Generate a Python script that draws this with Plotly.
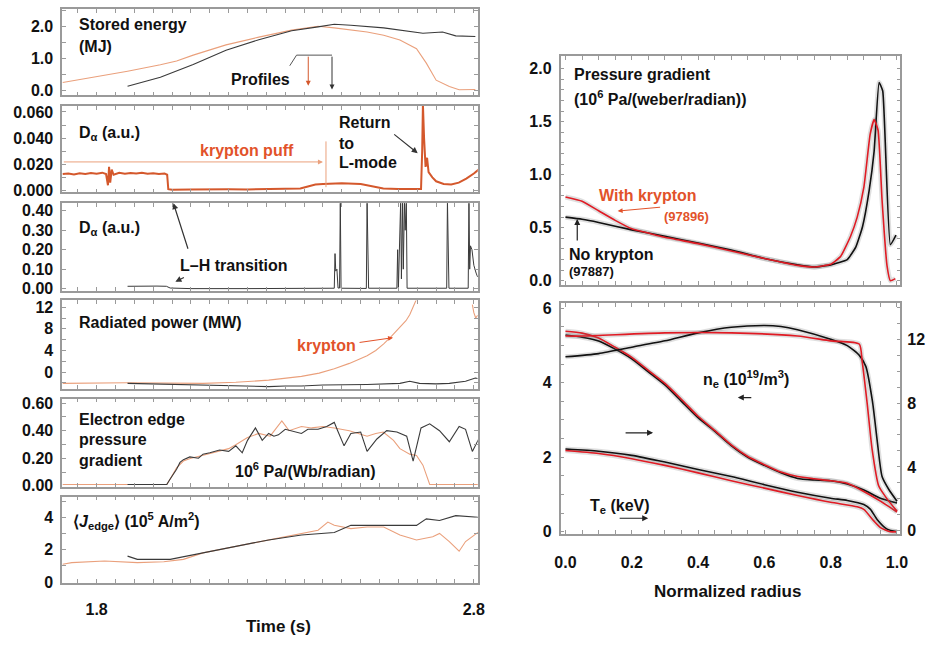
import plotly.graph_objects as go

W, H = 928, 645

# ---------------- data: time traces (left) ----------------
# Stored energy (MJ)
t_we_kr = [1.710, 1.795, 1.882, 1.969, 2.012, 2.056, 2.143, 2.230, 2.317, 2.387, 2.430, 2.517, 2.561, 2.604, 2.648, 2.674, 2.700, 2.735, 2.761, 2.804]
we_kr = [0.25, 0.42, 0.60, 0.80, 0.92, 1.10, 1.42, 1.66, 1.88, 2.00, 1.95, 1.82, 1.72, 1.57, 1.30, 0.85, 0.32, 0.12, 0.02, 0.03]
t_we_no = [1.882, 1.969, 2.056, 2.143, 2.230, 2.317, 2.387, 2.430, 2.474, 2.561, 2.665, 2.717, 2.752, 2.804]
we_no = [0.13, 0.41, 0.81, 1.25, 1.58, 1.86, 1.98, 2.06, 2.03, 1.95, 1.78, 1.82, 1.70, 1.68]

# D-alpha, krypton shot (a.u.)
t_da_kr = [1.710, 1.725, 1.740, 1.755, 1.770, 1.785, 1.800, 1.815, 1.825, 1.830, 1.833, 1.836, 1.840, 1.845,
           1.860, 1.875, 1.890, 1.905, 1.920, 1.935, 1.950, 1.965, 1.980, 1.987, 1.990, 2.000, 2.050, 2.100,
           2.150, 2.200, 2.250, 2.300, 2.340, 2.360, 2.380, 2.400, 2.450, 2.500, 2.530, 2.560, 2.600, 2.640,
           2.660, 2.663, 2.665, 2.668, 2.672, 2.676, 2.680, 2.690, 2.700, 2.720, 2.740, 2.760, 2.780, 2.800, 2.813]
da_kr = [0.0125, 0.0130, 0.0122, 0.0132, 0.0126, 0.0134, 0.0128, 0.0136, 0.0125, 0.0040, 0.0180, 0.0060, 0.0160, 0.0120,
         0.0135, 0.0128, 0.0134, 0.0130, 0.0136, 0.0128, 0.0132, 0.0126, 0.0130, 0.0120, 0.0010, 0.0005, 0.0008, 0.0006,
         0.0009, 0.0008, 0.0010, 0.0012, 0.0015, 0.0030, 0.0045, 0.0050, 0.0055, 0.0050, 0.0035, 0.0015, 0.0012, 0.0010,
         0.0012, 0.0300, 0.0660, 0.0400, 0.0180, 0.0250, 0.0140, 0.0100, 0.0070, 0.0050, 0.0045, 0.0060, 0.0090, 0.0130, 0.0160]

# D-alpha, reference shot (a.u.)
t_da_no = [1.882, 1.900, 1.930, 1.960, 1.985, 1.995, 2.050, 2.100, 2.200, 2.300, 2.420,
           2.430, 2.432, 2.434, 2.437, 2.440, 2.444, 2.446, 2.448, 2.515, 2.517, 2.519, 2.521,
           2.596, 2.598, 2.600, 2.606, 2.608, 2.611, 2.613, 2.616, 2.618, 2.621, 2.623, 2.700,
           2.728, 2.730, 2.732, 2.734, 2.785, 2.787, 2.789, 2.791, 2.795, 2.800, 2.806, 2.810]
da_no = [0.012, 0.013, 0.014, 0.013, 0.012, 0.003, 0.000, 0.001, 0.000, 0.001, 0.002,
         0.002, 0.180, 0.090, 0.100, 0.003, 0.003, 0.450, 0.002, 0.001, 0.450, 0.120, 0.002,
         0.002, 0.200, 0.002, 0.450, 0.050, 0.450, 0.100, 0.450, 0.300, 0.450, 0.002, 0.001,
         0.002, 0.450, 0.150, 0.002, 0.002, 0.450, 0.100, 0.220, 0.200, 0.120, 0.080, 0.060]

# Radiated power (MW)
t_prad_kr = [1.710, 1.882, 2.082, 2.169, 2.256, 2.300, 2.343, 2.390, 2.430, 2.470, 2.517, 2.540, 2.561, 2.580,
             2.604, 2.620, 2.630, 2.648, None, 2.796, 2.800, 2.805, 2.810]
prad_kr = [-2.1, -2.0, -2.1, -1.9, -1.5, -1.2, -0.8, -0.2, 0.6, 1.6, 3.0, 4.0, 5.2, 6.5,
           8.2, 9.5, 10.6, 13.5, None, 12.5, 11.0, 10.0, 10.5]
t_prad_no = [1.882, 1.950, 2.082, 2.170, 2.256, 2.300, 2.343, 2.400, 2.430, 2.517, 2.604, 2.630, 2.656,
             2.700, 2.735, 2.778, 2.804, 2.810]
prad_no = [-2.1, -2.2, -2.4, -2.5, -2.7, -2.6, -2.6, -2.4, -2.4, -2.3, -2.1, -1.7, -2.1,
           -2.2, -2.1, -1.7, -1.1, -1.2]

# Electron edge pressure gradient (10^6 Pa/(Wb/rad))
t_pe_no = [1.882, 1.950, 1.986, 1.995, 2.012, 2.021, 2.030, 2.047, 2.070, 2.082, 2.100, 2.126, 2.150, 2.169,
           2.186, 2.200, 2.221, 2.239, 2.256, 2.270, 2.282, 2.300, 2.317, 2.343, 2.360, 2.387, 2.410, 2.430,
           2.439, 2.456, 2.474, 2.500, 2.517, 2.543, 2.569, 2.596, 2.622, 2.639, 2.660, 2.683, 2.709, 2.735,
           2.761, 2.778, 2.796, 2.813]
pe_no = [0.01, 0.01, 0.01, 0.05, 0.12, 0.17, 0.19, 0.21, 0.20, 0.23, 0.24, 0.26, 0.25, 0.29,
         0.24, 0.33, 0.42, 0.33, 0.38, 0.36, 0.37, 0.41, 0.40, 0.38, 0.41, 0.41, 0.43, 0.46,
         0.40, 0.29, 0.38, 0.39, 0.25, 0.34, 0.40, 0.39, 0.36, 0.18, 0.42, 0.45, 0.40, 0.32,
         0.43, 0.41, 0.25, 0.34]
t_pe_kr = [1.710, 1.900, 1.986, 1.995, 2.012, 2.030, 2.050, 2.080, 2.120, 2.150, 2.170, 2.200, 2.230, 2.260,
           2.291, 2.310, 2.343, 2.370, 2.400, 2.430, 2.470, 2.517, 2.540, 2.560, 2.587, 2.604, 2.630, 2.648,
           2.665, 2.683, 2.813]
pe_kr = [0.01, 0.01, 0.01, 0.05, 0.13, 0.18, 0.20, 0.22, 0.25, 0.27, 0.30, 0.35, 0.38, 0.36,
         0.47, 0.40, 0.43, 0.42, 0.43, 0.42, 0.40, 0.36, 0.38, 0.39, 0.33, 0.27, 0.23, 0.22,
         0.15, 0.01, 0.01]

# <J_edge> (10^5 A/m^2)
t_j_kr = [1.710, 1.734, 1.821, 1.908, 1.978, 2.030, 2.082, 2.169, 2.256, 2.343, 2.387, 2.413, 2.430, 2.474,
          2.517, 2.561, 2.604, 2.648, 2.691, 2.709, 2.735, 2.761, 2.778, 2.813]
j_kr = [1.1, 1.2, 1.3, 1.2, 1.25, 1.4, 1.8, 2.2, 2.6, 3.0, 3.2, 3.7, 3.5, 3.3,
        3.4, 3.4, 2.9, 2.6, 2.8, 3.0, 2.5, 1.9, 2.5, 3.1]
t_j_no = [1.882, 1.908, 1.995, 2.082, 2.169, 2.256, 2.343, 2.430, 2.474, 2.517, 2.648, 2.674, 2.709, 2.752, 2.813]
j_no = [1.6, 1.4, 1.4, 1.8, 2.2, 2.6, 2.9, 3.06, 3.5, 3.5, 3.5, 3.9, 3.8, 4.1, 4.0]

# ---------------- data: profiles (right) ----------------
r_pg_kr = [0.0, 0.05, 0.1, 0.15, 0.2, 0.25, 0.3, 0.4, 0.5, 0.6, 0.7, 0.75, 0.8, 0.83, 0.86, 0.88, 0.9,
           0.919, 0.931, 0.943, 0.955, 0.970, 0.980, 0.995]
pg_kr = [0.79, 0.75, 0.66, 0.57, 0.49, 0.45, 0.41, 0.35, 0.28, 0.21, 0.145, 0.13, 0.155, 0.23, 0.42, 0.60, 0.88,
         1.38, 1.52, 1.42, 0.76, 0.14, 0.0, 0.02]
r_pg_no = [0.0, 0.05, 0.1, 0.2, 0.3, 0.4, 0.5, 0.6, 0.7, 0.75, 0.8, 0.85, 0.876, 0.896, 0.916, 0.931,
           0.946, 0.957, 0.980, 0.997]
pg_no = [0.60, 0.58, 0.55, 0.48, 0.42, 0.355, 0.29, 0.21, 0.15, 0.13, 0.15, 0.20, 0.32, 0.51, 0.85, 1.22,
         1.87, 1.79, 0.34, 0.43]

r_mid = [0.0, 0.05, 0.1, 0.15, 0.2, 0.25, 0.3, 0.35, 0.4, 0.45, 0.5, 0.55, 0.6, 0.65, 0.7, 0.75, 0.8, 0.85, 0.9, 0.95, 1.0]
mid_no = [5.28, 5.22, 5.12, 4.90, 4.64, 4.29, 3.94, 3.50, 3.06, 2.70, 2.31, 2.00, 1.78, 1.58, 1.43, 1.39, 1.37, 1.28, 1.12, 0.90, 0.77]
mid_kr = [5.38, 5.33, 5.20, 4.95, 4.68, 4.33, 3.98, 3.55, 3.10, 2.72, 2.33, 2.02, 1.80, 1.60, 1.48, 1.42, 1.37, 1.30, 1.08, 0.82, 0.53]

r_te_no = [0.0, 0.1, 0.2, 0.3, 0.4, 0.5, 0.6, 0.7, 0.8, 0.85, 0.9, 0.92, 0.94, 0.97, 1.0]
te_no = [2.22, 2.16, 2.05, 1.87, 1.67, 1.48, 1.26, 1.06, 0.90, 0.84, 0.73, 0.60, 0.33, 0.07, 0.0]
r_te_kr = [0.0, 0.1, 0.2, 0.3, 0.4, 0.5, 0.6, 0.7, 0.8, 0.88, 0.9, 0.93, 0.95, 0.98, 1.0]
te_kr = [2.18, 2.10, 1.96, 1.78, 1.58, 1.37, 1.17, 0.97, 0.79, 0.67, 0.60, 0.29, 0.11, 0.0, 0.0]

r_ne_kr = [0.0, 0.05, 0.3, 0.5, 0.7, 0.8, 0.886, 0.895, 0.91, 0.925, 0.945, 0.97, 1.0]
ne_kr = [12.2, 12.2, 12.4, 12.4, 12.2, 11.9, 11.7, 10.6, 8.0, 5.1, 2.8, 2.0, 1.23]
r_ne_no = [0.0, 0.1, 0.2, 0.3, 0.4, 0.5, 0.6, 0.65, 0.7, 0.8, 0.85, 0.886, 0.906, 0.926, 0.94, 0.955, 0.975, 1.0]
ne_no = [10.9, 11.1, 11.5, 11.9, 12.4, 12.75, 12.86, 12.8, 12.6, 12.0, 11.6, 11.0, 10.3, 8.1, 5.7, 3.4, 2.6, 1.85]

time_tick_labels = {1.8: "1.8", 2.8: "2.8"}

# ---------------- styling ----------------
FONT = "Liberation Sans, Arial, Helvetica, sans-serif"
AX = "#9a9a9a"
ORANGE = "#eaa07c"
ORANGE_D = "#d4582c"
TXT_OR = "#e2522a"
RED = "#e01b24"
BLK = "#3a3a3a"


def px(x):
    return x / W


def py(y):
    return 1 - y / H


XL = [px(57), px(479)]
XR = [px(563), px(908)]
ROWS = [(5, 93), (104, 192), (203, 292), (302, 392), (402, 492), (502, 590)]
T_RANGE = [1.7086, 2.8104]

tick_font = dict(family=FONT, size=16, color="#111", weight="bold")

fig = go.Figure()

# left panels traces
left = [
    [(t_we_kr, we_kr, ORANGE, 1.1), (t_we_no, we_no, BLK, 1.1)],
    [(t_da_kr, da_kr, ORANGE_D, 2.0)],
    [(t_da_no, da_no, BLK, 1.0)],
    [(t_prad_kr, prad_kr, ORANGE, 1.1), (t_prad_no, prad_no, BLK, 1.1)],
    [(t_pe_kr, pe_kr, ORANGE, 1.1), (t_pe_no, pe_no, BLK, 1.1)],
    [(t_j_kr, j_kr, ORANGE, 1.1), (t_j_no, j_no, BLK, 1.1)],
]
for i, traces in enumerate(left):
    n = "" if i == 0 else str(i + 1)
    for xs, ys, c, w in traces:
        fig.add_trace(go.Scatter(x=xs, y=ys, mode="lines", line=dict(color=c, width=w),
                                 xaxis="x" + n, yaxis="y" + n, hoverinfo="skip", connectgaps=False))

SHADOW = "rgba(110,110,110,0.22)"
right_a = [(r_pg_no, pg_no, "#111111"), (r_pg_kr, pg_kr, RED)]
for xs, ys, c in right_a:
    fig.add_trace(go.Scatter(x=xs, y=ys, mode="lines", line=dict(color=SHADOW, width=5, shape="spline", smoothing=0.4),
                             xaxis="x7", yaxis="y7", hoverinfo="skip"))
for xs, ys, c in right_a:
    fig.add_trace(go.Scatter(x=xs, y=ys, mode="lines", line=dict(color=c, width=1.6, shape="spline", smoothing=0.4),
                             xaxis="x7", yaxis="y7", hoverinfo="skip"))

right_b = [(r_mid, mid_no, "#111111", "y8"), (r_mid, mid_kr, RED, "y8"),
           (r_te_no, te_no, "#111111", "y8"), (r_te_kr, te_kr, RED, "y8"),
           (r_ne_no, ne_no, "#111111", "y9"), (r_ne_kr, ne_kr, RED, "y9")]
for xs, ys, c, ya in right_b:
    fig.add_trace(go.Scatter(x=xs, y=ys, mode="lines", line=dict(color=SHADOW, width=5, shape="spline", smoothing=0.6),
                             xaxis="x8", yaxis=ya, hoverinfo="skip"))
for xs, ys, c, ya in right_b:
    fig.add_trace(go.Scatter(x=xs, y=ys, mode="lines", line=dict(color=c, width=1.6, shape="spline", smoothing=0.6),
                             xaxis="x8", yaxis=ya, hoverinfo="skip"))

layout = dict(width=W, height=H, margin=dict(l=0, r=0, t=0, b=0), paper_bgcolor="white",
              plot_bgcolor="white", showlegend=False, font=dict(family=FONT, size=16, color="#111"))

time_ticks = [round(1.70 + 0.05 * i, 2) for i in range(23)]

y_specs = [
    ([-0.15, 2.54], [0, 0.5, 1.0, 1.5, 2.0, 2.5], {0: "0.0", 1.0: "1.0", 2.0: "2.0"}),
    ([-0.0015, 0.0645], [0, 0.01, 0.02, 0.03, 0.04, 0.05, 0.06], {0: "0.000", 0.02: "0.020", 0.04: "0.040", 0.06: "0.060"}),
    ([-0.010, 0.439], [0, 0.1, 0.2, 0.3, 0.4], {0: "0.00", 0.1: "0.10", 0.2: "0.20", 0.3: "0.30", 0.4: "0.40"}),
    ([-3.09, 13.27], [-2, 0, 2, 4, 6, 8, 10, 12], {0: "0", 4: "4", 8: "8", 12: "12"}),
    ([-0.007, 0.633], [0, 0.1, 0.2, 0.3, 0.4, 0.5, 0.6], {0: "0.00", 0.2: "0.20", 0.4: "0.40", 0.6: "0.60"}),
    ([-0.06, 5.27], [0, 1, 2, 3, 4, 5], {0: "0", 2: "2", 4: "4"}),
]

for i, (yr, yt, ylab) in enumerate(y_specs):
    n = "" if i == 0 else str(i + 1)
    top, bot = ROWS[i]
    last = i == len(y_specs) - 1
    layout["xaxis" + n] = dict(
        domain=XL, range=T_RANGE, anchor="y" + n, showline=True, mirror="ticks", linecolor=AX,
        linewidth=1.5, ticks="inside", ticklen=4, tickcolor=AX, tickwidth=1, showgrid=False, zeroline=False,
        tickmode="array", tickvals=time_ticks,
        ticktext=[time_tick_labels.get(v, "") if last else "" for v in time_ticks],
        tickfont=tick_font, ticklabelstandoff=11, fixedrange=True)
    layout["yaxis" + n] = dict(
        domain=[py(bot), py(top)], range=yr, anchor="x" + n, showline=True, mirror="ticks", linecolor=AX,
        linewidth=1.5, ticks="inside", ticklen=4, tickcolor=AX, tickwidth=1, showgrid=False, zeroline=False,
        tickmode="array", tickvals=yt, ticktext=[ylab.get(v, "") for v in yt], tickfont=tick_font,
        ticklabelstandoff=4, fixedrange=True)

r_ticks = [round(0.05 * i, 2) for i in range(21)]
r_labels = {0.0: "0.0", 0.2: "0.2", 0.4: "0.4", 0.6: "0.6", 0.8: "0.8", 1.0: "1.0"}
common = dict(showline=True, linecolor=AX, linewidth=1.5, ticks="inside", ticklen=4, tickcolor=AX, tickwidth=1,
              showgrid=False, zeroline=False, tickmode="array", tickfont=tick_font, fixedrange=True)

layout["xaxis7"] = dict(domain=XR, range=[-0.015, 1.01], anchor="y7", mirror="ticks", tickvals=r_ticks,
                        ticktext=["" for v in r_ticks], **common)
pa_ticks = [round(0.1 * i, 1) for i in range(21)]
pa_lab = {0.0: "0.0", 0.5: "0.5", 1.0: "1.0", 1.5: "1.5", 2.0: "2.0"}
layout["yaxis7"] = dict(domain=[py(286), py(53)], range=[-0.037, 2.12], anchor="x7", mirror="ticks",
                        tickvals=pa_ticks, ticktext=[pa_lab.get(v, "") for v in pa_ticks], ticklabelstandoff=4, **common)
layout["xaxis8"] = dict(domain=XR, range=[-0.015, 1.01], anchor="y8", mirror="ticks", tickvals=r_ticks,
                        ticktext=[r_labels.get(v, "") for v in r_ticks], ticklabelstandoff=13, **common)
pb_ticks = [round(0.5 * i, 1) for i in range(13)]
pb_lab = {0.0: "0", 2.0: "2", 4.0: "4", 6.0: "6"}
layout["yaxis8"] = dict(domain=[py(540), py(305)], range=[-0.06, 6.13], anchor="x8", mirror=False,
                        tickvals=pb_ticks, ticktext=[pb_lab.get(v, "") for v in pb_ticks], ticklabelstandoff=4, **common)
pr_ticks = list(range(0, 15))
pr_lab = {0: "0", 4: "4", 8: "8", 12: "12"}
layout["yaxis9"] = dict(overlaying="y8", side="right", range=[-0.2, 14.25], anchor="x8",
                        tickvals=pr_ticks, ticktext=[pr_lab.get(v, "") for v in pr_ticks], ticklabelstandoff=2, **common)

fig.update_layout(**layout)


def label(text, x, y, color="#111", size=16, xanchor="left", bold=True):
    fig.add_annotation(text=text, x=px(x), y=py(y), xref="paper", yref="paper", xanchor=xanchor, yanchor="middle",
                       showarrow=False, font=dict(family=FONT, size=size, color=color, weight="bold" if bold else "normal"))


def arrow(hx, hy, tx, ty, color="#333", width=1.2, head=2, size=1.0):
    fig.add_annotation(text="", x=px(hx), y=py(hy), xref="paper", yref="paper", ax=tx - hx, ay=ty - hy,
                       showarrow=True, arrowhead=head, arrowsize=size, arrowwidth=width, arrowcolor=color)


label("Stored energy", 72, 21)
label("(MJ)", 72, 43)
label("Profiles", 226, 77)
label("D<sub>α</sub> (a.u.)", 72, 132)
label("krypton puff", 195, 149, color=TXT_OR)
label("Return", 336, 121)
label("to", 336, 142)
label("L-mode", 336, 162)
label("D<sub>α</sub> (a.u.)", 72, 229)
label("L–H transition", 175, 266)
label("Radiated power (MW)", 72, 325)
label("krypton", 293, 348, color=TXT_OR)
label("Electron edge", 72, 423)
label("pressure", 72, 444)
label("gradient", 72, 465)
label("10<sup>6</sup> Pa/(Wb/radian)", 230, 475)
label("⟨<i>J</i><sub>edge</sub>⟩ (10<sup>5</sup> A/m<sup>2</sup>)", 66, 527)
label("Time (s)", 277, 634, xanchor="center", size=17)
label("Pressure gradient", 575, 72)
label("(10<sup>6</sup> Pa/(weber/radian))", 575, 96)
label("With krypton", 600, 195, color=TXT_OR)
label("(97896)", 666, 217, color=TXT_OR, size=13)
label("No krypton", 570, 255)
label("(97887)", 570, 273, size=13)
label("n<sub>e</sub> (10<sup>19</sup>/m<sup>3</sup>)", 706, 382)
label("T<sub>e</sub> (keV)", 591, 512)
label("Normalized radius", 733, 599, xanchor="center", size=17)

arrow(418, 152, 393, 132)
arrow(170, 203, 185, 250)
arrow(172, 283, 182, 278)
arrow(393, 340, 358, 345, color=TXT_OR, width=1)
arrow(621, 211, 665, 207, color=TXT_OR, width=1)
arrow(580, 219, 580, 242, color="#222")
arrow(743, 401, 758, 401, color="#222")
arrow(657, 437, 628, 437, color="#222")
arrow(652, 524, 622, 524, color="#222")

# Profiles bracket (panel 1, data coordinates)
fig.add_shape(type="line", xref="x", yref="y", x0=2.312, y0=0.77, x1=2.330, y1=1.10, line=dict(color="#555", width=1))
fig.add_shape(type="line", xref="x", yref="y", x0=2.330, y0=1.10, x1=2.424, y1=1.10, line=dict(color="#555", width=1))
fig.add_annotation(x=2.361, y=0.15, xref="x", yref="y", axref="x", ayref="y", ax=2.361, ay=1.10, text="",
                   showarrow=True, arrowhead=2, arrowsize=1, arrowwidth=1, arrowcolor=ORANGE_D)
fig.add_annotation(x=2.424, y=0.03, xref="x", yref="y", axref="x", ayref="y", ax=2.424, ay=1.10, text="",
                   showarrow=True, arrowhead=2, arrowsize=1, arrowwidth=1, arrowcolor="#333")

# krypton puff marker and arrow (panel 2)
fig.add_shape(type="line", xref="x2", yref="y2", x0=2.408, y0=0.0025, x1=2.408, y1=0.0375,
              line=dict(color=ORANGE, width=1))
fig.add_annotation(x=2.40, y=0.0218, xref="x2", yref="y2", axref="x2", ayref="y2", ax=1.709, ay=0.0218, text="",
                   showarrow=True, arrowhead=2, arrowsize=1, arrowwidth=1, arrowcolor=ORANGE)

fig.write_html("out.html")
